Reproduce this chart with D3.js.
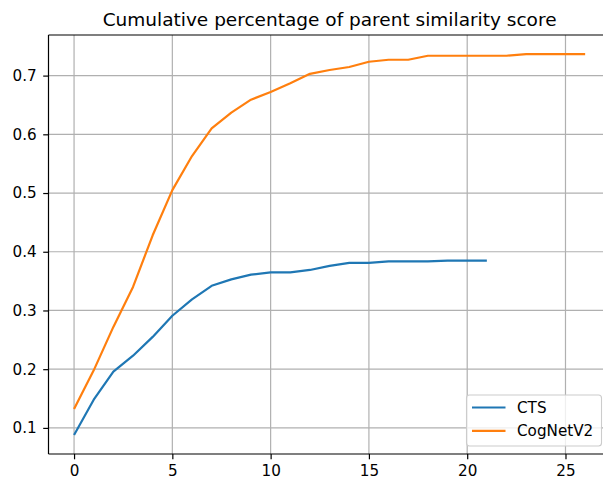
<!DOCTYPE html>
<html>
<head>
<meta charset="utf-8">
<script src="https://cdn.jsdelivr.net/npm/d3@7"></script>
<style>
  html, body { margin: 0; padding: 0; background: #fff; }
  svg { display: block; font-family: "DejaVu Sans", sans-serif; }
</style>
</head>
<body>
<svg id="chart" width="603" height="479"></svg>
<script>
const title = "Cumulative percentage of parent similarity score";
const seriesNames = ["CTS", "CogNetV2"];
const seriesColors = ["#1f77b4", "#ff7f0e"];
const ctsValues = [0.088, 0.148, 0.196, 0.223, 0.255, 0.291, 0.319, 0.342, 0.353, 0.361, 0.365, 0.365,
  0.369, 0.376, 0.381, 0.381, 0.3835, 0.3835, 0.3835, 0.385, 0.385, 0.385];
const cogValues = [0.132, 0.198, 0.272, 0.340, 0.428, 0.505, 0.563, 0.610, 0.637, 0.659, 0.672, 0.687,
  0.703, 0.7095, 0.7146, 0.7236, 0.727, 0.727, 0.7338, 0.7338, 0.7338, 0.7338, 0.7338, 0.7367,
  0.7367, 0.7367, 0.7367];
const xTicks = [0, 5, 10, 15, 20, 25];
const yTicks = [0.1, 0.2, 0.3, 0.4, 0.5, 0.6, 0.7];

const series = [ctsValues, cogValues];

const svg = d3.select("#chart");
const pLeft = 48.5, pTop = 35, pBottom = 454, pRight = 610.7;

const maxN = d3.max(series, s => s.length - 1);
const xPad = maxN * 0.05;
const x = d3.scaleLinear().domain([-xPad, maxN + xPad]).range([pLeft, pRight]);
const allVals = series.flat();
const yMin = d3.min(allVals), yMax = d3.max(allVals);
const yPad = (yMax - yMin) * 0.05;
const y = d3.scaleLinear().domain([yMin - yPad, yMax + yPad]).range([pBottom, pTop]);

// grid
const grid = svg.append("g");
grid.selectAll("line.gx").data(xTicks).join("line")
  .attr("x1", d => x(d)).attr("x2", d => x(d))
  .attr("y1", pTop).attr("y2", pBottom)
  .attr("stroke", "#b0b0b0").attr("stroke-width", 1.2);
grid.selectAll("line.gy").data(yTicks).join("line")
  .attr("x1", pLeft).attr("x2", pRight)
  .attr("y1", d => y(d)).attr("y2", d => y(d))
  .attr("stroke", "#b0b0b0").attr("stroke-width", 1.2);

// lines
const line = d3.line().x((d, i) => x(i)).y(d => y(d));
series.forEach((s, k) => {
  svg.append("path").datum(s)
    .attr("d", line)
    .attr("fill", "none")
    .attr("stroke", seriesColors[k])
    .attr("stroke-width", 2.2)
    .attr("stroke-linejoin", "round")
    .attr("stroke-linecap", "butt");
});

// axes
const fs = "15.2px";
const xAxis = d3.axisBottom(x).tickValues(xTicks).tickSize(5.3).tickPadding(6).tickFormat(d3.format("d"));
const gx = svg.append("g").attr("transform", `translate(0,${pBottom})`).call(xAxis);
gx.select(".domain").remove();
gx.selectAll("line").attr("stroke", "#000").attr("stroke-width", 1.2);
gx.selectAll("text").attr("font-size", fs).attr("fill", "#000").attr("font-family", "DejaVu Sans");

const yAxis = d3.axisLeft(y).tickValues(yTicks).tickSize(5.3).tickPadding(6.5).tickFormat(d3.format(".1f"));
const gy = svg.append("g").attr("transform", `translate(${pLeft},0)`).call(yAxis);
gy.select(".domain").remove();
gy.selectAll("line").attr("stroke", "#000").attr("stroke-width", 1.2);
gy.selectAll("text").attr("font-size", fs).attr("fill", "#000").attr("font-family", "DejaVu Sans");

// spines
const sp = svg.append("g").attr("stroke", "#000").attr("stroke-width", 1.2).attr("fill", "none");
sp.append("line").attr("x1", pLeft).attr("x2", pLeft).attr("y1", pTop).attr("y2", pBottom);
sp.append("line").attr("x1", pLeft).attr("x2", pRight).attr("y1", pBottom).attr("y2", pBottom);
sp.append("line").attr("x1", pLeft).attr("x2", pRight).attr("y1", pTop).attr("y2", pTop);
sp.append("line").attr("x1", pRight).attr("x2", pRight).attr("y1", pTop).attr("y2", pBottom);

// title
svg.append("text")
  .attr("x", (pLeft + pRight) / 2).attr("y", 25.5)
  .attr("text-anchor", "middle")
  .attr("font-size", "18.5px").attr("fill", "#000")
  .text(title);

// legend
const lg = svg.append("g");
lg.append("rect")
  .attr("x", 466.5).attr("y", 395).attr("width", 135).attr("height", 51)
  .attr("rx", 3).attr("fill", "#fff").attr("fill-opacity", 0.8)
  .attr("stroke", "#cccccc").attr("stroke-width", 1.1);
seriesNames.forEach((name, k) => {
  const yy = 407.5 + k * 23.3;
  lg.append("line").attr("x1", 472).attr("x2", 505.5).attr("y1", yy).attr("y2", yy)
    .attr("stroke", seriesColors[k]).attr("stroke-width", 2.2);
  lg.append("text").attr("x", 517).attr("y", yy + 5.5)
    .attr("font-size", fs).attr("fill", "#000").text(name);
});
</script>
</body>
</html>
